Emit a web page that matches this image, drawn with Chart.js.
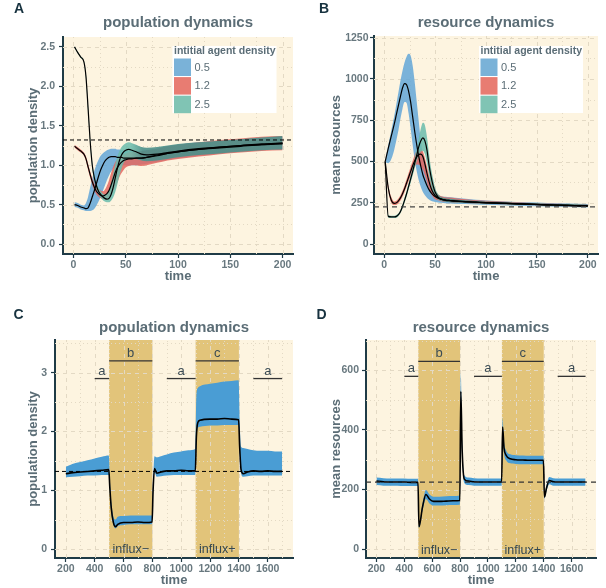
<!DOCTYPE html>
<html>
<head>
<meta charset="utf-8">
<title>population and resource dynamics</title>
<script src="https://cdn.jsdelivr.net/npm/chart.js@4.4.1/dist/chart.umd.min.js"></script>
<style>
  html, body { margin: 0; padding: 0; background: #ffffff; }
  #fig { position: relative; width: 606px; height: 588px; }
  .panel { position: absolute; width: 303px; height: 294px; }
</style>
</head>
<body>
<div id="fig">
  <div class="panel" style="left:0;top:0"><canvas id="chartA" width="303" height="294"></canvas></div>
  <div class="panel" style="left:303px;top:0"><canvas id="chartB" width="303" height="294"></canvas></div>
  <div class="panel" style="left:0;top:294px"><canvas id="chartC" width="303" height="294"></canvas></div>
  <div class="panel" style="left:303px;top:294px"><canvas id="chartD" width="303" height="294"></canvas></div>
</div>
<script>
// ---- data: panels A and B (three initial densities) ----
const densityLevels = ['0.5', '1.2', '2.5'];
const timeAB = [1, 4, 7, 10, 12, 14, 16, 18, 20, 22, 24, 26, 28, 30, 32, 34, 36, 38, 40, 42,
  44, 46, 48, 50, 53, 56, 60, 65, 70, 80, 90, 100, 120, 140, 160, 180, 200];

const popMean05 = [0.50, 0.49, 0.47, 0.46, 0.45, 0.46, 0.52, 0.60, 0.68, 0.77, 0.86, 0.94, 1.00, 1.05, 1.08, 1.10, 1.11, 1.11, 1.11, 1.10,
  1.10, 1.10, 1.09, 1.09, 1.09, 1.09, 1.09, 1.09, 1.10, 1.13, 1.15, 1.17, 1.20, 1.22, 1.24, 1.26, 1.27];
const popLow05 = [0.47, 0.46, 0.44, 0.43, 0.42, 0.42, 0.42, 0.43, 0.45, 0.49, 0.54, 0.60, 0.67, 0.74, 0.81, 0.87, 0.92, 0.96, 0.99, 1.00,
  1.01, 1.01, 1.00, 1.00, 1.00, 1.00, 1.00, 1.01, 1.02, 1.04, 1.07, 1.09, 1.12, 1.15, 1.17, 1.19, 1.20];
const popHigh05 = [0.53, 0.52, 0.50, 0.49, 0.52, 0.60, 0.72, 0.83, 0.93, 1.01, 1.07, 1.12, 1.15, 1.17, 1.19, 1.20, 1.21, 1.21, 1.21, 1.20,
  1.20, 1.19, 1.19, 1.19, 1.18, 1.18, 1.18, 1.18, 1.19, 1.21, 1.24, 1.26, 1.29, 1.31, 1.33, 1.35, 1.36];

const popMean12 = [1.24, 1.21, 1.18, 1.14, 1.08, 0.98, 0.88, 0.79, 0.72, 0.67, 0.64, 0.62, 0.61, 0.62, 0.64, 0.68, 0.75, 0.83, 0.91, 0.97,
  1.01, 1.04, 1.06, 1.07, 1.08, 1.08, 1.09, 1.09, 1.10, 1.12, 1.15, 1.17, 1.20, 1.23, 1.25, 1.26, 1.28];
const popLow12 = [1.22, 1.19, 1.16, 1.12, 1.05, 0.94, 0.84, 0.75, 0.68, 0.63, 0.60, 0.58, 0.57, 0.57, 0.58, 0.60, 0.63, 0.67, 0.72, 0.78,
  0.85, 0.90, 0.94, 0.97, 0.99, 1.00, 1.00, 0.99, 1.00, 1.03, 1.06, 1.08, 1.11, 1.14, 1.16, 1.18, 1.19];
const popHigh12 = [1.26, 1.23, 1.20, 1.16, 1.11, 1.02, 0.92, 0.84, 0.77, 0.72, 0.70, 0.68, 0.67, 0.69, 0.74, 0.81, 0.90, 0.98, 1.04, 1.08,
  1.11, 1.13, 1.14, 1.15, 1.16, 1.17, 1.17, 1.18, 1.19, 1.21, 1.24, 1.26, 1.29, 1.32, 1.34, 1.36, 1.37];

const popMean25 = [2.50, 2.43, 2.37, 2.31, 2.12, 1.72, 1.30, 1.00, 0.84, 0.74, 0.67, 0.63, 0.60, 0.58, 0.57, 0.58, 0.63, 0.72, 0.84, 0.96,
  1.06, 1.13, 1.17, 1.19, 1.20, 1.19, 1.17, 1.14, 1.13, 1.14, 1.16, 1.18, 1.21, 1.23, 1.25, 1.27, 1.28];
const popLow25 = [2.49, 2.42, 2.36, 2.30, 2.09, 1.68, 1.26, 0.96, 0.80, 0.70, 0.63, 0.59, 0.56, 0.54, 0.53, 0.53, 0.55, 0.59, 0.66, 0.76,
  0.87, 0.96, 1.03, 1.07, 1.09, 1.09, 1.08, 1.06, 1.05, 1.06, 1.08, 1.10, 1.13, 1.15, 1.17, 1.19, 1.20];
const popHigh25 = [2.51, 2.44, 2.38, 2.32, 2.15, 1.76, 1.34, 1.04, 0.88, 0.78, 0.71, 0.67, 0.64, 0.63, 0.64, 0.68, 0.77, 0.89, 1.01, 1.11,
  1.18, 1.23, 1.26, 1.28, 1.29, 1.28, 1.26, 1.23, 1.22, 1.23, 1.25, 1.27, 1.29, 1.31, 1.33, 1.35, 1.37];

const resMean05 = [500, 580, 655, 730, 785, 840, 895, 945, 972, 965, 925, 860, 770, 680, 600, 530, 470, 420, 385, 355,
  330, 312, 298, 288, 278, 272, 267, 264, 261, 257, 254, 251, 246, 242, 238, 234, 231];
const resLow05 = [495, 490, 515, 575, 630, 690, 760, 820, 860, 855, 790, 700, 600, 510, 440, 385, 345, 315, 295, 280,
  270, 262, 258, 255, 252, 250, 248, 246, 244, 242, 240, 238, 234, 231, 228, 225, 222];
const resHigh05 = [505, 600, 690, 780, 850, 920, 990, 1050, 1100, 1135, 1152, 1140, 1080, 980, 860, 740, 630, 540, 470, 420,
  380, 350, 325, 308, 296, 290, 286, 283, 280, 274, 268, 264, 258, 253, 249, 246, 243];

const resMean12 = [500, 340, 265, 246, 250, 262, 280, 305, 335, 370, 405, 440, 475, 505, 528, 543, 545, 530, 485, 430,
  380, 340, 312, 295, 280, 272, 267, 264, 261, 257, 254, 251, 246, 242, 238, 234, 231];
const resLow12 = [495, 325, 250, 236, 238, 248, 264, 287, 315, 348, 380, 412, 445, 470, 482, 480, 470, 450, 415, 375,
  335, 305, 285, 272, 265, 260, 256, 254, 252, 249, 246, 244, 240, 236, 232, 229, 226];
const resHigh12 = [505, 355, 285, 258, 262, 276, 296, 323, 355, 392, 430, 468, 505, 540, 565, 575, 575, 560, 520, 470,
  420, 375, 340, 318, 300, 290, 284, 282, 278, 272, 266, 262, 256, 251, 246, 242, 238];

const resMean25 = [500, 168, 165, 165, 168, 178, 198, 228, 265, 305, 350, 395, 440, 490, 540, 590, 625, 643, 625, 570,
  480, 410, 355, 315, 285, 272, 265, 262, 260, 256, 253, 250, 246, 242, 238, 234, 231];
const resLow25 = [495, 160, 158, 158, 160, 169, 188, 216, 250, 288, 330, 372, 415, 460, 505, 540, 560, 565, 545, 490,
  420, 360, 315, 288, 270, 262, 257, 254, 252, 249, 246, 244, 240, 236, 232, 229, 226];
const resHigh25 = [505, 176, 172, 172, 176, 187, 208, 240, 280, 322, 370, 418, 465, 520, 580, 640, 700, 735, 720, 650,
  550, 460, 395, 340, 302, 285, 278, 274, 270, 265, 261, 258, 254, 249, 245, 242, 238];

// ---- data: panel C (population under influx treatments) ----
const timeC = [200, 250, 300, 350, 400, 450, 498, 505, 515, 530, 545, 560, 600, 650, 700, 750, 798, 805, 815, 830,
  860, 900, 950, 1000, 1050, 1098, 1105, 1115, 1130, 1200, 1250, 1300, 1350, 1398, 1405, 1415, 1430, 1460, 1500,
  1550, 1600, 1650, 1700];
const popMeanC = [1.28, 1.30, 1.31, 1.32, 1.33, 1.34, 1.35, 1.05, 0.70, 0.45, 0.38, 0.42, 0.45, 0.45, 0.46, 0.45, 0.46, 1.00, 1.37, 1.29,
  1.31, 1.33, 1.33, 1.34, 1.33, 1.33, 1.90, 2.15, 2.19, 2.21, 2.21, 2.22, 2.21, 2.20, 1.75, 1.35, 1.28, 1.31, 1.33,
  1.32, 1.33, 1.32, 1.32];
const popLowC = [1.22, 1.23, 1.24, 1.25, 1.25, 1.26, 1.26, 0.98, 0.62, 0.41, 0.35, 0.39, 0.41, 0.42, 0.42, 0.42, 0.42, 0.95, 1.30, 1.23,
  1.24, 1.25, 1.26, 1.26, 1.26, 1.26, 1.82, 2.06, 2.08, 2.10, 2.10, 2.11, 2.11, 2.11, 1.68, 1.29, 1.23, 1.24, 1.25,
  1.25, 1.25, 1.25, 1.25];
const popHighC = [1.40, 1.45, 1.48, 1.51, 1.54, 1.57, 1.59, 1.20, 0.80, 0.55, 0.50, 0.55, 0.56, 0.57, 0.57, 0.57, 0.57, 1.15, 1.58, 1.56,
  1.58, 1.61, 1.64, 1.66, 1.68, 1.70, 2.60, 2.74, 2.77, 2.81, 2.83, 2.85, 2.86, 2.87, 2.20, 1.74, 1.72, 1.70, 1.68,
  1.67, 1.67, 1.66, 1.66];

// ---- data: panel D (resources under influx treatments) ----
const timeD = [200, 250, 300, 350, 400, 450, 498, 505, 530, 555, 580, 610, 650, 700, 750, 798, 805, 815, 830, 860,
  900, 950, 1000, 1050, 1098, 1105, 1115, 1130, 1160, 1200, 1250, 1300, 1350, 1398, 1405, 1420, 1440, 1470, 1500,
  1550, 1600, 1650, 1700];
const resMeanD = [228, 226, 225, 225, 225, 224, 224, 75, 140, 183, 168, 160, 160, 161, 162, 163, 530, 330, 235, 228,
  226, 225, 225, 225, 225, 410, 340, 315, 303, 300, 299, 298, 298, 298, 175, 205, 230, 226, 225,
  225, 225, 225, 225];
const resLowD = [215, 213, 213, 213, 212, 212, 212, 72, 128, 168, 153, 146, 146, 147, 148, 149, 500, 310, 222, 215,
  213, 213, 213, 213, 213, 385, 322, 298, 288, 286, 285, 285, 285, 285, 170, 195, 218, 213, 213,
  213, 213, 213, 213];
const resHighD = [240, 238, 237, 237, 237, 236, 236, 80, 152, 198, 183, 176, 176, 177, 178, 180, 590, 360, 248, 240,
  238, 237, 237, 237, 237, 440, 360, 332, 318, 315, 314, 313, 313, 313, 180, 215, 242, 238, 237,
  237, 237, 237, 237];

// ---- treatments and annotations ----
const influxStart = [500, 1100];
const influxEnd = [800, 1400];
const influxLabels = ['influx\u2212', 'influx+'];
const bracketStart = [400, 500, 900, 1100, 1500];
const bracketEnd = [500, 800, 1100, 1400, 1700];
const bracketLetters = ['a', 'b', 'a', 'c', 'a'];
const bracketLevelC = [2.9, 3.2, 2.9, 3.2, 2.9];
const bracketLevelD = [580, 630, 580, 630, 580];
const densityRef = 1.32;
const resourceRef = 225;

// ---- styling ----
const FONT = "'Liberation Sans', Arial, Helvetica, sans-serif";
const TXT = '#5b6d76';
const TICK = '#68787f';
const AXIS = '#1f3b46';
const CREAM = '#fdf4e0';
const GOLD = '#e2c47a';
const GRID = '#e3d9c4';
const BLUE = 'rgba(99,166,215,0.85)';
const RED = 'rgba(228,103,95,0.85)';
const TEAL = 'rgba(106,188,172,0.85)';
const TEAL_DARK = 'rgba(76,144,138,0.9)';
const RIBBON_CD = '#4a9dd4';
const KEY_COLORS = ['#7ab2d8', '#e87c72', '#80c4b4'];

const pts = (xs, ys) => xs.map((x, i) => ({x: x, y: ys[i]}));

function ribbon(xs, lo, hi, fill, order) {
  const base = {borderColor: 'rgba(0,0,0,0)', borderWidth: 0, pointRadius: 0, order: order, cubicInterpolationMode: 'monotone'};
  return [
    Object.assign({}, base, {data: pts(xs, lo), fill: false}),
    Object.assign({}, base, {data: pts(xs, hi), fill: '-1', backgroundColor: fill})
  ];
}

function meanLine(xs, ys, width) {
  return {data: pts(xs, ys), borderColor: '#000', borderWidth: width, pointRadius: 0, fill: false, order: 1,
    cubicInterpolationMode: 'monotone'};
}

// teal band turns darker where all three bands sit on top of each other
function tealFill(t0, t1) {
  return (c) => {
    const chart = c.chart;
    if (!chart.chartArea) return TEAL;
    const x = chart.scales.x;
    const g = chart.ctx.createLinearGradient(x.getPixelForValue(t0), 0, x.getPixelForValue(t1), 0);
    g.addColorStop(0, TEAL);
    g.addColorStop(1, TEAL_DARK);
    return g;
  };
}

function brackets(levels) {
  return bracketStart.map((s, i) => ({
    data: [{x: s, y: levels[i]}, {x: bracketEnd[i], y: levels[i]}],
    borderColor: '#333333', borderWidth: 1.3, pointRadius: 0, fill: false, order: 0
  }));
}

function gridValues(scale) {
  const major = scale.ticks.map(t => t.value);
  const minor = [];
  if (major.length > 1) {
    const step = major[1] - major[0];
    for (let v = major[0] - step / 2; v <= scale.max; v += step) {
      if (v >= scale.min) minor.push(v);
    }
  }
  return {major, minor};
}

// background, grid, reference line and all text of one panel
function decor(cfg) {
  return {
    id: 'decor',
    beforeDraw(chart) {
      const {ctx, chartArea: a} = chart;
      const x = chart.scales.x;
      ctx.save();
      ctx.fillStyle = CREAM;
      ctx.fillRect(a.left, a.top, a.right - a.left, a.bottom - a.top);
      if (cfg.shades) {
        ctx.fillStyle = GOLD;
        influxStart.forEach((s, i) => {
          const x0 = x.getPixelForValue(s), x1 = x.getPixelForValue(influxEnd[i]);
          ctx.fillRect(x0, a.top, x1 - x0, a.bottom - a.top);
        });
      }
      ctx.restore();
    },
    beforeDatasetsDraw(chart) {
      const {ctx, chartArea: a} = chart;
      const gx = gridValues(chart.scales.x), gy = gridValues(chart.scales.y);
      ctx.save();
      ctx.beginPath();
      ctx.rect(a.left, a.top, a.right - a.left, a.bottom - a.top);
      ctx.clip();
      ctx.strokeStyle = GRID;
      ctx.lineWidth = 1;
      const stroke = (vals, dash, vertical) => {
        ctx.setLineDash(dash);
        vals.forEach(v => {
          const p = Math.round((vertical ? chart.scales.x : chart.scales.y).getPixelForValue(v)) + 0.5;
          ctx.beginPath();
          if (vertical) { ctx.moveTo(p, a.bottom); ctx.lineTo(p, a.top); }
          else { ctx.moveTo(a.left, p); ctx.lineTo(a.right, p); }
          ctx.stroke();
        });
      };
      stroke(gx.minor, [1, 3], true);
      stroke(gy.minor, [1, 3], false);
      stroke(gx.major, [4, 4], true);
      stroke(gy.major, [4, 4], false);
      ctx.restore();
    },
    afterDatasetsDraw(chart) {
      const {ctx, chartArea: a} = chart;
      const p = chart.scales.y.getPixelForValue(cfg.ref);
      ctx.save();
      ctx.strokeStyle = cfg.refColor;
      ctx.lineWidth = cfg.refWidth;
      ctx.setLineDash(cfg.refDash);
      ctx.beginPath();
      ctx.moveTo(a.left, p);
      ctx.lineTo(a.right, p);
      ctx.stroke();
      ctx.restore();
    },
    afterDraw(chart) {
      const {ctx, chartArea: a} = chart;
      const x = chart.scales.x, y = chart.scales.y;
      const cx = (a.left + a.right) / 2;
      ctx.save();
      ctx.textBaseline = 'middle';
      ctx.textAlign = 'center';
      ctx.fillStyle = '#17323f';
      ctx.font = 'bold 14px ' + FONT;
      ctx.fillText(cfg.letter, cfg.letterX, cfg.letterY);
      ctx.fillStyle = TXT;
      ctx.font = 'bold 15px ' + FONT;
      ctx.fillText(cfg.title, cx, cfg.titleY);
      ctx.font = 'bold 13px ' + FONT;
      ctx.fillText('time', cx, a.bottom + 22);
      ctx.save();
      ctx.translate(33, (a.top + a.bottom) / 2);
      ctx.rotate(-Math.PI / 2);
      ctx.fillText(cfg.yTitle, 0, 0);
      ctx.restore();

      if (cfg.legendX) {
        const lx = cfg.legendX;
        ctx.fillStyle = '#ffffff';
        ctx.fillRect(lx, 46, 104, 67);
        ctx.textAlign = 'left';
        ctx.fillStyle = TXT;
        ctx.font = 'bold 10.5px ' + FONT;
        ctx.fillText('intitial agent density', lx + 1.5, 51);
        ctx.font = '11px ' + FONT;
        densityLevels.forEach((lab, i) => {
          const ky = 58.5 + i * 18.6;
          ctx.fillStyle = KEY_COLORS[i];
          ctx.fillRect(lx + 1.5, ky, 17, 17.5);
          ctx.fillStyle = TXT;
          ctx.fillText(lab, lx + 22, ky + 9);
        });
      }

      if (cfg.bracketLevels) {
        ctx.textAlign = 'center';
        ctx.textBaseline = 'alphabetic';
        ctx.fillStyle = '#3a4b54';
        ctx.font = '13px ' + FONT;
        bracketLetters.forEach((l, i) => {
          ctx.fillText(l, x.getPixelForValue((bracketStart[i] + bracketEnd[i]) / 2),
            y.getPixelForValue(cfg.bracketLevels[i]) - 4);
        });
        ctx.textBaseline = 'middle';
        ctx.fillStyle = '#34474f';
        ctx.font = '12.5px ' + FONT;
        influxLabels.forEach((l, i) => {
          ctx.fillText(l, x.getPixelForValue((influxStart[i] + influxEnd[i]) / 2), y.getPixelForValue(0) + 1);
        });
      }
      ctx.restore();
    }
  };
}

function scales(box, xRange, xStep, yRange, yStep, yFmt, yPad) {
  const tickFont = {family: FONT, size: 10.5, weight: 'bold'};
  const grid = {drawOnChartArea: false, tickLength: 4, tickColor: AXIS, tickWidth: 1.2, color: AXIS};
  return {
    x: {
      type: 'linear', min: xRange[0], max: xRange[1],
      border: {color: AXIS, width: 2}, grid: grid,
      ticks: {stepSize: xStep, includeBounds: false, font: tickFont, color: TICK, padding: 1,
        maxRotation: 0, autoSkip: false, callback: v => String(v)},
      afterFit: s => { s.height = 294 - box.bottom; }
    },
    y: {
      type: 'linear', min: yRange[0], max: yRange[1],
      border: {color: AXIS, width: 2}, grid: grid,
      ticks: {stepSize: yStep, includeBounds: false, font: tickFont, color: TICK, padding: yPad,
        autoSkip: false, callback: yFmt},
      afterFit: s => { s.width = box.left; }
    }
  };
}

function makeChart(id, datasets, box, sc, cfg) {
  return new Chart(document.getElementById(id), {
    type: 'line',
    data: {datasets: datasets},
    options: {
      responsive: false,
      animation: false,
      devicePixelRatio: 1,
      events: [],
      layout: {padding: {left: 0, top: box.top, right: 303 - box.right, bottom: 0}},
      scales: sc,
      plugins: {legend: {display: false}, tooltip: {enabled: false}, title: {display: false}}
    },
    plugins: [decor(cfg)]
  });
}

// ---- panel A ----
const boxA = {left: 63, right: 293, top: 37, bottom: 254};
makeChart('chartA', [
  ...ribbon(timeAB, popLow05, popHigh05, BLUE, 6),
  ...ribbon(timeAB, popLow12, popHigh12, RED, 5),
  ...ribbon(timeAB, popLow25, popHigh25, tealFill(55, 66), 4),
  meanLine(timeAB, popMean05, 1.2),
  meanLine(timeAB, popMean12, 1.2),
  meanLine(timeAB, popMean25, 1.2)
], boxA, scales(boxA, [-10, 210], 50, [-0.125, 2.625], 0.5, v => v.toFixed(1), 4), {
  letter: 'A', letterX: 19, letterY: 9, title: 'population dynamics', titleY: 22.5,
  yTitle: 'population density', legendX: 172.5,
  ref: densityRef, refColor: '#000', refWidth: 1, refDash: [4, 3]
});

// ---- panel B ----
const boxB = {left: 71, right: 295, top: 36, bottom: 254};
makeChart('chartB', [
  ...ribbon(timeAB, resLow05, resHigh05, BLUE, 6),
  ...ribbon(timeAB, resLow12, resHigh12, RED, 5),
  ...ribbon(timeAB, resLow25, resHigh25, tealFill(44, 58), 4),
  meanLine(timeAB, resMean05, 1.2),
  meanLine(timeAB, resMean12, 1.2),
  meanLine(timeAB, resMean25, 1.2)
], boxB, scales(boxB, [-10, 210], 50, [-60, 1260], 250, v => String(v), 1.5), {
  letter: 'B', letterX: 21, letterY: 9, title: 'resource dynamics', titleY: 22.5,
  yTitle: 'mean resources', legendX: 176,
  ref: resourceRef, refColor: '#444', refWidth: 1.3, refDash: [5, 4]
});

// ---- panel C ----
const boxC = {left: 55, right: 293, top: 46, bottom: 264};
makeChart('chartC', [
  ...ribbon(timeC, popLowC, popHighC, RIBBON_CD, 4),
  meanLine(timeC, popMeanC, 1.6),
  ...brackets(bracketLevelC)
], boxC, scales(boxC, [125, 1775], 200, [-0.153, 3.556], 1, v => String(v), 4), {
  letter: 'C', letterX: 18.5, letterY: 21, title: 'population dynamics', titleY: 34,
  yTitle: 'population density', shades: true, bracketLevels: bracketLevelC,
  ref: densityRef, refColor: '#000', refWidth: 1, refDash: [4, 3]
});

// ---- panel D ----
const boxD = {left: 63, right: 293, top: 46, bottom: 264};
makeChart('chartD', [
  ...ribbon(timeD, resLowD, resHighD, RIBBON_CD, 4),
  meanLine(timeD, resMeanD, 1.6),
  ...brackets(bracketLevelD)
], boxD, scales(boxD, [125, 1775], 200, [-30, 702], 200, v => String(v), 3), {
  letter: 'D', letterX: 18.5, letterY: 21, title: 'resource dynamics', titleY: 34,
  yTitle: 'mean resources', shades: true, bracketLevels: bracketLevelD,
  ref: resourceRef, refColor: '#333', refWidth: 1.3, refDash: [5, 4]
});
</script>
</body>
</html>
